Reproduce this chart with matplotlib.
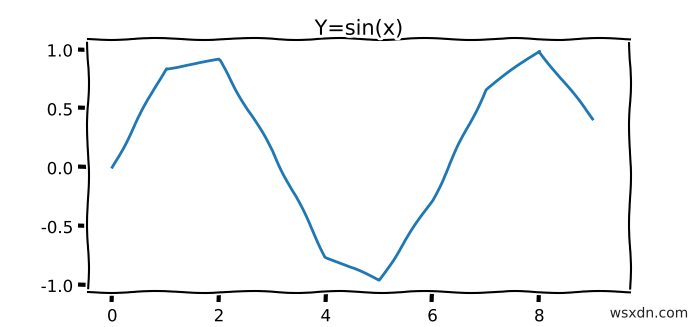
import numpy as np
import matplotlib
matplotlib.use('Agg')
import matplotlib.pyplot as plt

# values
x_vals = [0, 1, 2, 3, 4, 5, 6, 7, 8, 9]
y_vals = [0.0, 0.84, 0.91, 0.14, -0.76, -0.96, -0.28, 0.66, 0.99, 0.41]
x_ticks = [0, 2, 4, 6, 8]
y_ticks = [-1.0, -0.5, 0.0, 0.5, 1.0]
y_ticklabels = ['-1.0', '-0.5', '0.0', '0.5', '1.0']

with plt.xkcd():
    plt.rcParams['font.family'] = ['DejaVu Sans']
    plt.rcParams['axes.unicode_minus'] = False
    fig = plt.figure(figsize=(7.0, 3.27), dpi=100)
    ax = fig.add_axes([0.126, 0.107, 0.774, 0.774])
    ax.plot(x_vals, y_vals, color='#1f77b4', lw=2)
    ax.set_title('Y=sin(x)', fontsize=15, pad=3)
    ax.set_xticks(x_ticks)
    ax.set_yticks(y_ticks)
    ax.set_yticklabels(y_ticklabels)
    ax.tick_params(labelsize=12, length=7, width=3, pad=4)
    ax.set_xlim(-0.45, 9.7)
    ax.set_ylim(-1.06, 1.09)
    fig.text(0.983, 0.02, 'wsxdn.com', fontsize=10, ha='right', va='bottom', color='#222222')
    fig.savefig('out.png', dpi=100)
